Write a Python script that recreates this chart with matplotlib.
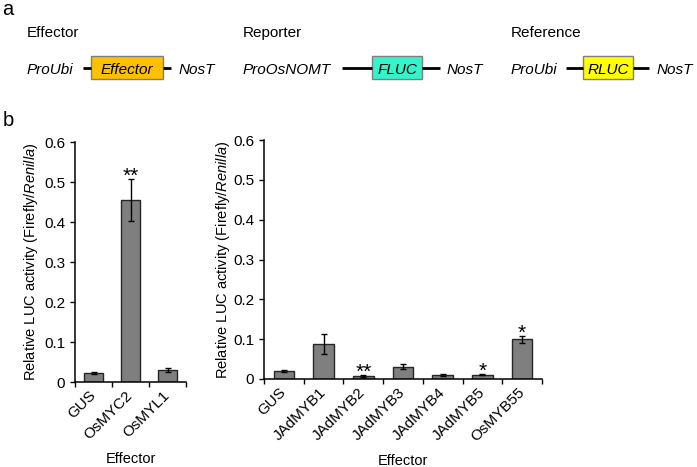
import matplotlib
matplotlib.use("Agg")
import matplotlib.pyplot as plt
from matplotlib.patches import Rectangle

plt.rcParams['font.family'] = ['Liberation Sans', 'DejaVu Sans']
plt.rcParams['mathtext.fontset'] = 'custom'
plt.rcParams['mathtext.rm'] = 'Liberation Sans'
plt.rcParams['mathtext.it'] = 'Liberation Sans:italic'

# painel b, esquerda
efetores_esq = ['GUS', 'OsMYC2', 'OsMYL1']
medias_esq = [0.022, 0.455, 0.031]
erros_esq = [0.003, 0.052, 0.005]
marcas_esq = ['', '**', '']

# painel b, direita
efetores_dir = ['GUS', 'JAdMYB1', 'JAdMYB2', 'JAdMYB3', 'JAdMYB4', 'JAdMYB5', 'OsMYB55']
medias_dir = [0.020, 0.087, 0.007, 0.031, 0.010, 0.011, 0.100]
erros_dir = [0.002, 0.025, 0.002, 0.007, 0.002, 0.002, 0.009]
marcas_dir = ['', '', '**', '', '', '*', '*']

# painel a: construcoes
titulos = ['Effector', 'Reporter', 'Reference']
promotores = ['ProUbi', 'ProOsNOMT', 'ProUbi']
genes = ['Effector', 'FLUC', 'RLUC']
cores_genes = ['#FFC000', '#33F5CC', '#FFFF00']

W, H = 697, 467
ylabel = r'Relative LUC activity (Firefly/$\mathit{Renilla}$)'


def plotar_construcao(ax, x0, titulo, promotor, gene, cor, geo):
    lin1, box0, box1, lin2, term = geo
    ax.text(x0, 37, titulo, fontsize=11, ha='left', va='baseline')
    ax.text(x0, 74, promotor, fontsize=11, style='italic', ha='left', va='baseline')
    ax.plot((lin1, box0), (68, 68), color='black', lw=2, solid_capstyle='butt')
    ax.plot((box1, lin2), (68, 68), color='black', lw=2, solid_capstyle='butt')
    ax.add_patch(Rectangle((box0, 56), box1 - box0, 23, facecolor=cor,
                           edgecolor='#7f7f7f', lw=1))
    ax.text((box0 + box1) / 2, 74, gene, fontsize=11, style='italic',
            ha='center', va='baseline')
    ax.text(term, 74, 'NosT', fontsize=11, style='italic', ha='left', va='baseline')


def plotar_barras(ax, nomes, medias, erros, marcas, xlab_y, ylab_x):
    xs = list(range(len(nomes)))
    ax.bar(xs, medias, width=0.52, color='#7f7f7f', edgecolor='#262626', lw=1, zorder=2)
    ax.errorbar(xs, medias, yerr=erros, fmt='none', ecolor='black', elinewidth=1,
                capsize=2.5, capthick=1, zorder=3)
    for x, m, e, s in zip(xs, medias, erros, marcas):
        if s:
            ax.annotate(s, (x, m + e), xytext=(0, -2), textcoords='offset points',
                        ha='center', va='baseline', fontsize=15)
    ax.set_xlim(-0.5, len(nomes) - 0.5)
    ax.set_ylim(0, 0.6)
    ax.set_yticks([0, 0.1, 0.2, 0.3, 0.4, 0.5, 0.6])
    ax.set_yticklabels(['0', '0.1', '0.2', '0.3', '0.4', '0.5', '0.6'], fontsize=11)
    ax.set_xticks([i - 0.5 for i in range(len(nomes) + 1)])
    ax.set_xticklabels([])
    ax.set_xticks(xs, minor=True)
    ax.set_xticklabels(nomes, minor=True, rotation=45, ha='right', va='center',
                       rotation_mode='anchor', fontsize=11)
    ax.tick_params(axis='x', which='minor', length=0, pad=8)
    ax.tick_params(axis='both', which='major', length=3.5, width=1, color='black')
    for lado in ['top', 'right']:
        ax.spines[lado].set_visible(False)
    for lado in ['left', 'bottom']:
        ax.spines[lado].set_linewidth(1.1)
    ax.set_xlabel('Effector', fontsize=10.5)
    ax.xaxis.set_label_coords(0.5, xlab_y)
    ax.set_ylabel(ylabel, fontsize=10.5)
    ax.yaxis.set_label_coords(ylab_x, 0.5)


fig = plt.figure(figsize=(W / 100, H / 100), dpi=100)

# eixo de fundo em coordenadas de pixel para o painel a
ax0 = fig.add_axes([0, 0, 1, 1])
ax0.set_xlim(0, W)
ax0.set_ylim(H, 0)
ax0.axis('off')
ax0.text(2, 15, 'a', fontsize=14.5, ha='left', va='baseline')
ax0.text(3, 126, 'b', fontsize=14.5, ha='left', va='baseline')

inicios = [27, 243, 511]
geometrias = [(83, 91, 163, 171, 179),
              (342, 372, 422, 440, 447),
              (566, 583, 633, 649, 657)]
for x0, t, p, g, c, geo in zip(inicios, titulos, promotores, genes, cores_genes, geometrias):
    plotar_construcao(ax0, x0, t, p, g, c, geo)

ax1 = fig.add_axes([75 / W, 1 - 382 / H, 111 / W, 240 / H])
plotar_barras(ax1, efetores_esq, medias_esq, erros_esq, marcas_esq, -0.292, -0.315)

ax2 = fig.add_axes([264 / W, 1 - 379 / H, 278 / W, 239 / H])
plotar_barras(ax2, efetores_dir, medias_dir, erros_dir, marcas_dir, -0.314, -0.115)

fig.savefig('out.png', dpi=100)
